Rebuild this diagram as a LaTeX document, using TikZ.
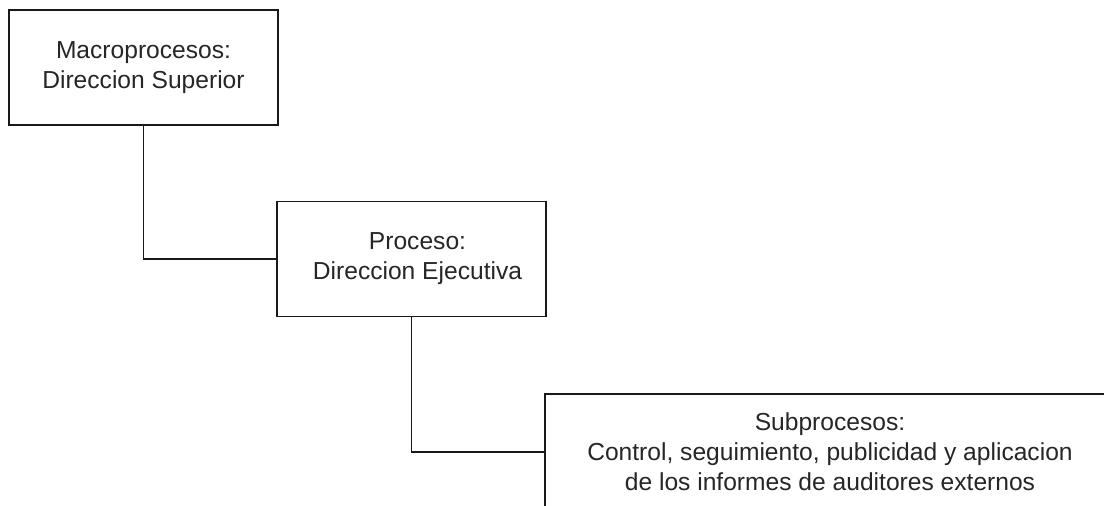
\documentclass[tikz,border=0pt]{standalone}
\usepackage{fontspec}
\setmainfont{Liberation Sans}
\begin{document}
\begin{tikzpicture}[x=1pt,y=-1pt,
  procbox/.style={draw=black!90, line width=1.7pt, rectangle, align=center,
    font=\fontsize{24.6}{30}\selectfont, text=black!85, inner sep=0pt},
  link/.style={draw=black!90, line width=1.7pt}]
  % page frame, and clipping for the box that runs off the page
  \useasboundingbox (0,0) rectangle (1104,506);
  \clip (0,0) rectangle (1104,506);

  \node[procbox, minimum width=269pt, minimum height=115pt] (macro) at (143.5,67.5)
    {Macroprocesos:\\Direccion Superior};
  \node[procbox, minimum width=269pt, minimum height=115pt] (proc) at (411.5,259)
    {\hspace*{12pt}Proceso:\\\hspace*{12pt}Direccion Ejecutiva};
  \node[procbox, minimum width=570pt, minimum height=116pt] (sub) at (830,452)
    {Subprocesos:\\Control, seguimiento, publicidad y aplicacion\\de los informes de auditores externos};

  \draw[link] (macro.south) |- (proc.west);
  \draw[link] (proc.south) |- (sub.west);
\end{tikzpicture}
\end{document}
